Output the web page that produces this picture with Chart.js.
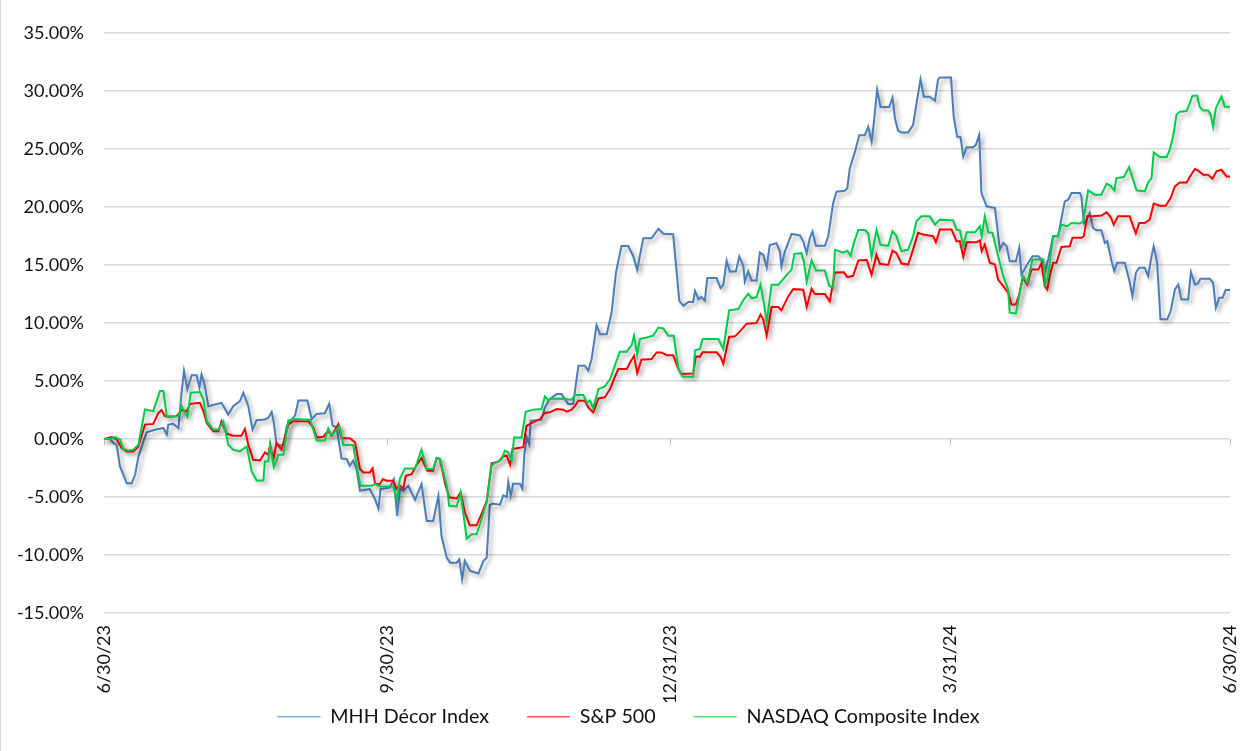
<!DOCTYPE html>
<html>
<head>
<meta charset="utf-8">
<title>MHH Décor Index vs S&amp;P 500 vs NASDAQ</title>
<script src="https://cdn.jsdelivr.net/npm/chart.js@4.4.1/dist/chart.umd.min.js"></script>
<style>
    html, body { margin: 0; padding: 0; background: #fff; }
    #wrap { position: relative; width: 1248px; height: 751px; }
    #frame { position: absolute; left: 0; top: 0; width: 1px; height: 751px; background: #d9d9d9; }
</style>
</head>
<body>
<div id="wrap">
    <canvas id="perfChart" width="1248" height="751"></canvas>
    <div id="frame"></div>
</div>
<script>
// x values are days since 6/30/23, y values are cumulative return in %
const tickDays = [0, 92, 184, 275, 366];
const tickLabels = ["6/30/23", "9/30/23", "12/31/23", "3/31/24", "6/30/24"];

const mhhDays = [0, 2.0, 3.0, 4.1, 5.2, 7.4, 9.0, 10.1, 11.2, 12.8, 13.9, 16.0, 17.7, 19.3, 20.4, 20.9, 22.5, 24.2, 25.2, 26.0,
    27.1, 28.5, 30.1, 31.0, 31.7, 32.8, 33.9, 36.1, 38.2, 40.4, 42.0, 44.2, 45.3, 46.9, 48.3, 49.6, 52.3, 53.4, 54.5, 55.2,
    56.1, 58.3, 59.4, 61.0, 62.1, 63.2, 66.1, 67.5, 69.1, 71.8, 73.2, 74.3, 75.6, 77.2, 78.9, 79.9, 81.0, 82.1, 83.2, 86.4,
    88.1, 89.2, 89.9, 92.9, 94.2, 95.3, 96.2, 97.3, 98.9, 101.1, 103.2, 104.9, 107.0, 108.7, 109.7, 111.4, 112.5, 114.6, 115.5, 116.4,
    117.3, 119.0, 121.7, 123.3, 124.4, 125.4, 126.3, 128.7, 129.8, 130.9, 131.4, 132.2, 133.0, 135.2, 136.0, 136.6, 137.4, 138.2, 138.7, 142.2,
    143.3, 144.9, 147.1, 148.7, 150.9, 152.5, 154.2, 156.3, 157.4, 158.5, 160.1, 161.2, 163.4, 165.0, 166.4, 168.2, 170.4, 172.0, 173.3, 175.3,
    178.0, 180.2, 181.8, 185.0, 187.0, 188.3, 189.9, 191.5, 192.1, 193.2, 194.2, 195.3, 196.1, 199.1, 200.4, 201.3, 202.4, 203.4, 205.4, 206.5,
    207.8, 208.3, 209.4, 210.5, 212.1, 213.2, 214.3, 215.4, 216.4, 218.6, 219.7, 220.2, 221.3, 223.5, 226.2, 227.3, 228.4, 229.4, 230.3, 231.4,
    234.3, 235.4, 237.0, 238.1, 240.8, 241.6, 242.4, 244.1, 245.5, 247.3, 248.4, 249.5, 250.2, 251.3, 252.4, 255.2, 256.3, 257.1, 258.1, 259.2,
    261.4, 263.0, 264.1, 265.4, 266.5, 268.4, 270.1, 271.1, 271.7, 275.3, 276.2, 277.3, 278.4, 279.3, 280.4, 282.5, 283.4, 284.5, 285.2, 286.9,
    289.6, 291.2, 292.3, 293.4, 294.4, 296.4, 297.5, 298.2, 300.1, 301.8, 303.7, 304.7, 305.8, 306.9, 308.5, 310.1, 312.3, 313.4, 314.5, 317.2,
    317.7, 318.5, 319.4, 320.4, 321.5, 322.6, 324.2, 325.3, 326.1, 327.5, 328.4, 329.3, 331.8, 333.2, 334.3, 335.4, 336.5, 338.3, 339.4, 340.5,
    341.2, 342.3, 343.4, 345.6, 346.7, 348.1, 349.2, 350.2, 352.4, 353.3, 354.6, 355.6, 356.4, 359.4, 360.5, 361.4, 362.5, 363.6, 364.6, 366.0];
const mhhValues = [0, 0, -0.35, -0.49, -2.37, -3.82, -3.82, -3.09, -1.50, -0.20, 0.58, 0.75, 0.87, 0.95, 0.38, 1.24, 1.30, 0.95, 3.99, 5.87,
    4.28, 5.49, 5.49, 4.42, 5.58, 4.57, 2.83, 2.98, 3.12, 2.11, 2.83, 3.27, 3.99, 2.83, 0.81, 1.62, 1.68, 1.82, 2.34, 1.39,
    -0.49, -0.58, 1.10, 1.68, 2.02, 3.31, 3.31, 1.73, 2.16, 2.22, 3.03, 1.15, 1.01, -1.67, -1.73, -2.31, -1.87, -2.59, -4.47, -4.32,
    -5.19, -5.99, -4.32, -4.18, -3.46, -6.63, -4.27, -4.47, -4.03, -5.24, -3.89, -7.06, -7.06, -4.90, -8.36, -10.23, -10.66, -10.66, -10.37, -12.10,
    -10.52, -11.38, -11.59, -10.52, -10.23, -5.70, -5.57, -5.66, -4.86, -5.00, -3.71, -4.91, -3.86, -3.86, -4.29, -1.43, 0.14, -0.43, 1.57, 1.66,
    2.73, 3.44, 3.87, 3.87, 3.01, 3.01, 6.31, 6.31, 5.88, 6.89, 9.81, 9.04, 9.04, 10.90, 14.35, 16.64, 16.64, 15.78, 14.58, 17.30,
    17.30, 18.13, 17.70, 17.65, 11.91, 11.48, 11.82, 11.82, 12.77, 12.05, 12.23, 11.92, 13.87, 13.87, 13.01, 13.30, 15.36, 14.44, 14.44, 15.73,
    14.93, 13.58, 14.44, 13.67, 13.67, 16.07, 15.87, 14.79, 16.73, 16.88, 16.16, 14.87, 16.16, 17.68, 17.56, 17.02, 16.02, 17.31, 17.88, 16.65,
    16.65, 17.45, 20.32, 21.32, 21.40, 21.60, 23.32, 24.76, 26.19, 26.19, 26.91, 25.62, 27.19, 30.11, 28.62, 28.62, 29.43, 27.65, 26.59, 26.42,
    26.42, 27.08, 28.94, 31.00, 29.51, 29.51, 29.17, 31.00, 31.17, 31.17, 27.79, 26.07, 26.02, 24.36, 25.16, 25.16, 25.36, 26.22, 21.20, 20.06,
    19.91, 16.33, 16.91, 16.62, 15.33, 15.33, 16.48, 14.18, 15.04, 15.76, 15.76, 15.47, 14.33, 15.47, 17.48, 17.48, 20.49, 20.63, 21.20, 21.20,
    20.90, 18.62, 18.91, 19.48, 18.19, 17.99, 17.99, 16.91, 17.05, 15.33, 14.47, 15.19, 15.19, 13.75, 12.32, 14.33, 14.76, 14.76, 14.04, 15.76,
    16.62, 15.24, 10.32, 10.32, 11.03, 12.89, 13.32, 12.03, 12.03, 14.38, 13.32, 13.41, 13.81, 13.81, 13.47, 11.32, 12.18, 12.18, 12.84, 12.84];

const spxDays = [0, 2.5, 4.1, 5.7, 7.4, 9.5, 11.2, 13.3, 16.0, 17.7, 18.7, 19.8, 20.9, 23.6, 25.2, 26.9, 28.0, 31.2, 32.3, 33.4,
    35.5, 37.2, 38.2, 39.9, 42.0, 44.7, 45.8, 46.9, 48.5, 50.7, 52.3, 53.4, 54.0, 55.0, 56.1, 57.7, 59.9, 61.5, 66.4, 68.0,
    69.1, 71.3, 72.9, 74.0, 76.2, 77.2, 79.9, 81.6, 83.2, 84.3, 86.4, 87.3, 88.1, 89.7, 90.6, 91.9, 94.0, 95.1, 96.2, 97.3,
    98.1, 100.0, 101.6, 103.2, 105.1, 107.0, 108.1, 109.2, 110.8, 112.2, 114.6, 115.9, 117.3, 118.9, 121.1, 122.7, 124.4, 126.0, 128.2, 129.8,
    130.9, 132.0, 132.8, 136.3, 137.3, 139.5, 141.7, 143.3, 144.9, 147.1, 149.3, 150.4, 152.0, 153.1, 154.2, 156.3, 157.4, 159.0, 160.7, 162.8,
    164.5, 166.1, 167.2, 169.9, 171.0, 172.3, 173.3, 174.7, 178.0, 179.6, 181.2, 182.9, 185.0, 186.7, 187.7, 191.5, 192.4, 193.7, 194.6, 199.1,
    200.4, 201.3, 203.2, 205.1, 206.7, 208.9, 212.1, 213.4, 214.3, 215.4, 217.0, 219.2, 220.2, 222.4, 224.0, 227.3, 228.4, 230.0, 231.1, 234.3,
    235.9, 237.6, 240.5, 241.6, 243.5, 245.2, 247.9, 249.5, 251.1, 252.2, 254.9, 256.3, 257.6, 259.2, 261.4, 263.0, 264.6, 266.3, 269.5, 270.4,
    271.7, 275.5, 277.1, 278.2, 279.3, 280.4, 283.6, 284.7, 285.3, 286.3, 287.9, 289.6, 290.6, 292.3, 293.9, 295.0, 296.4, 297.5, 298.6, 300.1,
    301.5, 303.7, 304.7, 305.8, 306.6, 307.4, 308.5, 309.6, 311.2, 313.9, 314.8, 317.7, 318.5, 319.6, 321.5, 324.2, 325.9, 327.2, 328.2, 329.6,
    333.4, 334.5, 335.4, 336.5, 338.3, 339.9, 341.2, 343.2, 345.1, 346.7, 348.1, 349.7, 351.9, 352.9, 354.6, 355.6, 357.3, 358.9, 360.3, 361.6,
    363.2, 364.9, 366.0];
const spxValues = [0, 0.17, 0, -0.78, -1.07, -1.07, -0.64, 1.24, 1.30, 2.25, 2.49, 1.97, 1.91, 1.97, 2.49, 2.40, 3.03, 3.12, 2.40, 1.39,
    0.66, 0.66, 1.53, 0.46, 0.29, 0.29, 0.87, -0.49, -1.79, -1.85, -1.16, -1.36, -0.49, -1.79, -0.35, -0.92, 1.24, 1.53, 1.53, 1.01,
    0.14, 0.20, 0.72, 0.29, 1.30, 0.06, 0.06, -0.29, -2.59, -2.88, -2.88, -2.54, -3.89, -3.89, -3.46, -3.60, -3.60, -4.27, -4.03, -4.27,
    -3.17, -3.03, -2.25, -1.64, -2.74, -2.74, -1.64, -1.73, -3.75, -5.04, -5.13, -4.61, -6.34, -7.44, -7.44, -6.48, -5.33, -2.10, -1.95, -1.49,
    -1.43, -2.23, -0.86, -0.71, 1.12, 1.43, 1.72, 2.24, 2.30, 2.58, 2.53, 2.35, 2.53, 2.87, 3.30, 3.30, 2.73, 2.30, 3.50, 3.59,
    4.30, 5.39, 6.03, 6.03, 6.60, 7.17, 5.68, 6.83, 6.89, 7.46, 7.46, 7.23, 7.23, 6.03, 5.60, 5.64, 7.13, 7.08, 7.48, 7.48,
    7.08, 6.50, 8.80, 8.85, 9.28, 9.94, 10.00, 10.72, 10.29, 8.91, 11.38, 11.38, 11.09, 12.29, 12.92, 12.87, 11.38, 12.95, 12.49, 12.49,
    11.86, 14.36, 14.38, 13.95, 14.07, 15.39, 15.44, 14.15, 15.87, 15.10, 15.01, 16.25, 16.02, 15.13, 15.04, 16.33, 17.77, 17.62, 17.48, 16.96,
    18.05, 18.05, 17.05, 17.05, 15.70, 16.96, 16.96, 17.13, 16.19, 16.76, 15.19, 15.04, 13.75, 13.18, 12.61, 11.60, 11.60, 12.46, 13.90, 13.32,
    14.61, 14.61, 15.13, 13.18, 12.89, 14.04, 15.19, 15.19, 16.56, 16.62, 17.34, 17.34, 17.48, 19.20, 19.20, 19.26, 19.54, 19.14, 18.48, 19.20,
    19.20, 18.34, 17.71, 18.62, 18.62, 18.91, 20.29, 20.11, 20.11, 20.77, 21.78, 22.12, 22.12, 22.58, 23.27, 23.15, 22.78, 22.78, 22.44, 23.07,
    23.21, 22.64, 22.64];

const nasdaqDays = [0, 2.0, 3.6, 5.2, 6.3, 7.9, 9.5, 11.2, 13.3, 16.0, 18.2, 19.3, 20.4, 22.0, 24.2, 25.2, 27.1, 28.2, 31.2, 32.3,
    33.4, 35.5, 37.2, 38.8, 40.4, 42.0, 44.2, 46.4, 48.0, 49.6, 51.8, 52.3, 53.4, 54.0, 55.2, 56.7, 58.3, 59.9, 61.5, 67.0,
    67.8, 69.1, 71.8, 72.9, 74.0, 76.5, 77.8, 81.0, 82.7, 83.4, 87.0, 88.1, 89.7, 94.0, 95.3, 96.2, 97.8, 101.1, 103.2, 104.9,
    107.0, 108.1, 109.2, 111.4, 112.2, 114.6, 115.9, 117.9, 119.5, 121.1, 122.7, 124.4, 126.0, 127.6, 129.2, 130.3, 131.4, 132.5, 133.3, 135.7,
    137.1, 139.5, 142.2, 143.3, 144.4, 145.5, 149.8, 152.0, 153.1, 155.8, 156.9, 158.0, 159.0, 160.7, 162.8, 164.5, 166.1, 167.7, 169.9, 171.5,
    172.3, 173.3, 174.2, 176.4, 178.5, 180.2, 181.8, 183.4, 185.2, 186.7, 188.1, 191.5, 192.1, 193.7, 194.6, 199.7, 201.3, 203.2, 206.2, 207.8,
    209.4, 210.5, 212.1, 213.4, 214.5, 215.4, 217.0, 219.2, 220.6, 222.4, 223.5, 224.4, 226.7, 227.5, 228.4, 230.0, 231.4, 234.3, 235.7, 237.0,
    237.6, 240.3, 241.6, 242.7, 243.7, 245.2, 247.3, 248.4, 249.5, 251.1, 252.4, 254.9, 256.3, 257.6, 259.2, 261.4, 263.0, 264.1, 265.7, 268.4,
    270.1, 271.7, 276.0, 277.1, 278.2, 279.3, 280.4, 283.1, 284.7, 285.3, 286.3, 287.4, 288.8, 290.1, 292.3, 293.9, 294.4, 296.4, 297.7, 298.8,
    300.1, 301.8, 305.3, 306.0, 306.9, 308.5, 310.1, 311.2, 313.1, 314.5, 317.2, 318.3, 319.9, 322.1, 324.2, 325.9, 327.2, 328.4, 329.1, 331.5,
    333.2, 334.0, 335.6, 338.3, 339.4, 340.5, 341.2, 343.2, 345.4, 346.4, 347.5, 348.6, 349.7, 351.9, 352.9, 353.8, 355.3, 356.2, 357.3, 358.9,
    359.7, 360.5, 361.4, 363.2, 364.3, 366.0];
const nasdaqValues = [0, 0, 0.17, -0.06, -0.87, -0.98, -0.92, -0.49, 2.54, 2.40, 4.13, 4.13, 1.97, 1.91, 1.97, 2.83, 1.91, 3.99, 4.05, 3.41,
    1.53, 0.81, 0.81, 1.53, -0.49, -0.92, -1.07, -0.64, -2.80, -3.58, -3.58, -1.94, -1.94, -0.49, -2.43, -1.36, -1.36, 1.62, 1.73, 1.67,
    1.01, -0.14, -0.14, 0.92, 0.29, 1.10, -0.52, -0.52, -3.17, -4.03, -4.03, -3.89, -4.09, -4.09, -5.19, -3.40, -2.54, -2.54, -0.92, -2.59,
    -2.59, -1.64, -1.73, -4.03, -5.76, -5.82, -4.61, -8.59, -8.21, -8.21, -6.92, -5.42, -2.25, -2.00, -1.78, -1.00, -1.15, -1.87, 0.14, 0.14,
    2.35, 2.53, 2.58, 3.67, 3.30, 3.50, 3.44, 3.39, 3.79, 3.79, 3.16, 3.30, 2.64, 4.30, 4.53, 5.16, 6.37, 7.52, 7.52, 8.09,
    8.90, 7.26, 8.61, 8.75, 8.90, 9.61, 9.53, 8.90, 8.90, 6.03, 5.39, 5.36, 7.65, 7.77, 8.62, 8.62, 7.77, 11.09, 11.20, 11.95,
    12.52, 12.15, 12.21, 13.30, 11.72, 10.06, 13.30, 13.30, 13.72, 14.30, 14.58, 15.96, 16.02, 15.30, 13.58, 15.39, 14.53, 14.53, 13.21, 13.01,
    16.30, 16.07, 16.22, 15.79, 16.88, 18.02, 18.02, 17.74, 15.73, 18.02, 16.73, 16.65, 17.91, 17.48, 16.19, 16.33, 17.48, 18.77, 19.20, 19.20,
    18.48, 18.91, 18.85, 18.05, 17.99, 16.62, 17.82, 17.82, 18.34, 17.48, 19.20, 17.82, 17.77, 16.33, 14.04, 12.89, 10.89, 10.83, 12.61, 14.04,
    13.47, 15.47, 15.47, 13.32, 14.04, 17.48, 17.48, 18.48, 18.34, 18.62, 18.57, 18.77, 21.43, 21.06, 21.06, 22.01, 21.83, 21.43, 22.49, 22.58,
    23.44, 22.78, 21.43, 21.35, 22.12, 22.49, 24.70, 24.30, 24.30, 24.93, 26.07, 27.94, 28.22, 28.28, 28.94, 29.60, 29.60, 28.60, 28.31, 28.31,
    27.94, 26.93, 28.51, 29.51, 28.65, 28.65];

const seriesNames = ["MHH Décor Index", "S&P 500", "NASDAQ Composite Index"];
const seriesColors = ["#4a7ebb", "#ff0000", "#00cc4a"];

const toPoints = (days, values) => days.map((d, i) => ({ x: d, y: values[i] }));

Chart.defaults.font.family = "Lato, 'Open Sans', sans-serif";
Chart.defaults.color = "#111";

// soft drop shadow under each line, like the office chart style
const lineShadow = {
    id: "lineShadow",
    beforeDatasetDraw(chart) {
        const c = chart.ctx;
        c.save();
        c.shadowColor = "rgba(0, 0, 0, 0.35)";
        c.shadowBlur = 4;
        c.shadowOffsetX = 3;
        c.shadowOffsetY = 3;
    },
    afterDatasetDraw(chart) {
        chart.ctx.restore();
    },
};

// short tick marks hanging from the 0% line
const zeroAxisTicks = {
    id: "zeroAxisTicks",
    beforeDatasetsDraw(chart) {
        const { ctx, scales } = chart;
        const y0 = scales.y.getPixelForValue(0);
        ctx.save();
        ctx.strokeStyle = "#bfbfbf";
        ctx.lineWidth = 1;
        tickDays.forEach((d) => {
            const x = Math.round(scales.x.getPixelForValue(d)) + 0.5;
            ctx.beginPath();
            ctx.moveTo(x, y0);
            ctx.lineTo(x, y0 + 6);
            ctx.stroke();
        });
        ctx.restore();
    },
};

// the legend uses wide horizontal gaps; keep its box short
const LEGEND_HEIGHT = 60;
const legendHeightFix = {
    id: "legendHeightFix",
    beforeLayout(chart) {
        const lg = chart.legend;
        if (lg && !lg._fixed) {
            const fit = lg.fit.bind(lg);
            lg.fit = function () {
                fit();
                this.height = LEGEND_HEIGHT;
            };
            lg._fixed = true;
        }
    },
};

const ctx = document.getElementById("perfChart").getContext("2d");
new Chart(ctx, {
    type: "line",
    data: {
        datasets: [
            { label: seriesNames[0], data: toPoints(mhhDays, mhhValues), borderColor: seriesColors[0], backgroundColor: seriesColors[0], order: 3 },
            { label: seriesNames[1], data: toPoints(spxDays, spxValues), borderColor: seriesColors[1], backgroundColor: seriesColors[1], order: 2 },
            { label: seriesNames[2], data: toPoints(nasdaqDays, nasdaqValues), borderColor: seriesColors[2], backgroundColor: seriesColors[2], order: 1 },
        ],
    },
    options: {
        responsive: false,
        animation: false,
        devicePixelRatio: 1,
        layout: { padding: { top: 33, right: 18, bottom: 22, left: 27 } },
        elements: {
            line: { borderWidth: 2, tension: 0, fill: false },
            point: { radius: 0 },
        },
        plugins: {
            tooltip: { enabled: false },
            legend: {
                position: "bottom",
                labels: {
                    usePointStyle: true,
                    pointStyle: "line",
                    pointStyleWidth: 43,
                    padding: 38,
                    color: "#111",
                    font: { size: 19.7 },
                    sort: (a, b) => a.datasetIndex - b.datasetIndex,
                },
            },
        },
        scales: {
            x: {
                type: "linear",
                min: 0,
                max: 366,
                afterBuildTicks: (scale) => {
                    scale.ticks = tickDays.map((v) => ({ value: v }));
                },
                afterFit: (scale) => {
                    scale.height = 56;
                    scale.paddingLeft = 0;
                    scale.paddingRight = 0;
                    // labels hang below the short axis box, so don't clip them to it
                    scale._computeLabelArea = () => null;
                },
                grid: { display: false, drawTicks: false },
                border: { display: false },
                ticks: {
                    autoSkip: false,
                    minRotation: 90,
                    maxRotation: 90,
                    padding: 12,
                    font: { size: 18 },
                    callback: (value) => tickLabels[tickDays.indexOf(value)],
                },
            },
            y: {
                min: -15,
                max: 35,
                afterFit: (scale) => {
                    scale.width = 77;
                    scale._computeLabelArea = () => null;
                },
                grid: { color: "#d9d9d9", lineWidth: 1.5, drawTicks: false },
                border: { display: false },
                ticks: {
                    stepSize: 5,
                    padding: 20,
                    font: { size: 18 },
                    callback: (value) => value.toFixed(2) + "%",
                },
            },
        },
    },
    plugins: [lineShadow, zeroAxisTicks, legendHeightFix],
});
</script>
</body>
</html>
